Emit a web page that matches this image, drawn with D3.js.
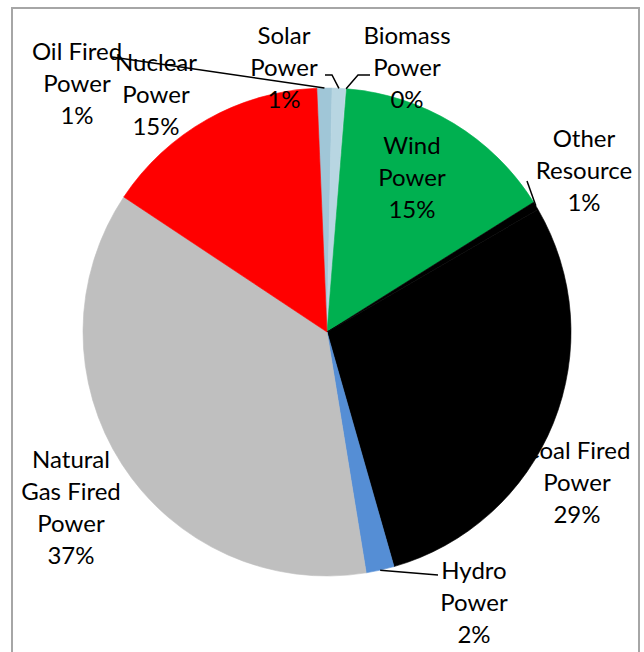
<!DOCTYPE html>
<html>
<head>
<meta charset="utf-8">
<script src="https://cdn.jsdelivr.net/npm/d3@7"></script>
<style>
  html, body { margin: 0; padding: 0; background: #fff; }
  svg { display: block; }
</style>
</head>
<body>
<div id="chart"></div>
<script>
// source shares, clockwise from just left of 12 o'clock
const sources = ['Oil Fired Power', 'Solar Power', 'Biomass Power', 'Wind Power', 'Other Resource',
  'Coal Fired Power', 'Hydro Power', 'Natural Gas Fired Power', 'Nuclear Power'];
const shares = [1.0, 0.89, 0.05, 14.8, 0.55, 28.95, 1.86, 36.9, 15.0];
const labelLines = [
  ['Oil Fired', 'Power'], ['Solar', 'Power'], ['Biomass', 'Power'], ['Wind', 'Power'], ['Other', 'Resource'],
  ['Coal Fired', 'Power'], ['Hydro', 'Power'], ['Natural', 'Gas Fired', 'Power'], ['Nuclear', 'Power'],
];
const colors = ['#A0C6D7', '#B8D6E2', '#C9DFE8', '#00B050', '#000000', '#000000', '#558ED5', '#BFBFBF', '#FF0000'];

// label layout: centre x, first baseline y, leader start points (empty = no leader)
const labelPos = [
  { x: 77, y: 60, lead: [[112, 57]] },
  { x: 284, y: 44, lead: [[325, 75], [332, 75]] },
  { x: 407, y: 44, lead: [[370, 75], [358, 75]] },
  { x: 412, y: 154, lead: [] },
  { x: 584, y: 147, lead: [[527, 181]] },
  { x: 577, y: 459, lead: [] },
  { x: 474, y: 579, lead: [[438, 575]] },
  { x: 71, y: 468, lead: [] },
  { x: 156, y: 71, lead: [] },
];

const W = 644, H = 652;
const cx = 327, cy = 332, r = 244;
const start = -2.4 * Math.PI / 180;
const lineH = 32;

const svg = d3.select('#chart').append('svg').attr('width', W).attr('height', H);

// chart frame (bottom edge falls outside the crop)
svg.append('rect').attr('x', 12).attr('y', 8).attr('width', 627).attr('height', H + 20)
  .attr('fill', 'none').attr('stroke', '#A6A6A6').attr('stroke-width', 2);

const total = d3.sum(shares);
const pie = d3.pie().sort(null).value(d => d).startAngle(start).endAngle(start + 2 * Math.PI);
const arcs = pie(shares);
const arc = d3.arc().innerRadius(0).outerRadius(r);

const g = svg.append('g').attr('transform', `translate(${cx},${cy})`);
// thin same-colour stroke hides anti-aliasing seams between slices
g.selectAll('path.slice').data(arcs).join('path')
  .attr('class', 'slice')
  .attr('d', arc)
  .attr('fill', (d, i) => colors[i])
  .attr('stroke', (d, i) => colors[i])
  .attr('stroke-width', 0.6)
  .attr('stroke-linejoin', 'round');

// leader lines: from label to the middle of the slice's outer edge
const edgePoint = d => {
  const a = (d.startAngle + d.endAngle) / 2;
  return [cx + r * Math.sin(a), cy - r * Math.cos(a)];
};
const line = d3.line();
arcs.forEach((d, i) => {
  const lp = labelPos[i];
  if (!lp.lead.length) return;
  svg.append('path')
    .attr('d', line([...lp.lead, edgePoint(d)]))
    .attr('fill', 'none').attr('stroke', '#000').attr('stroke-width', 1.5);
});

// data labels
const fmt = v => `${Math.round(v / total * 100)}%`;
arcs.forEach((d, i) => {
  const lp = labelPos[i];
  const lines = [...labelLines[i], fmt(shares[i])];
  const t = svg.append('text')
    .attr('x', lp.x).attr('y', lp.y)
    .attr('text-anchor', 'middle')
    .attr('font-family', 'Lato, "Open Sans", sans-serif')
    .attr('font-size', 24)
    .attr('fill', '#000');
  lines.forEach((s, k) => {
    t.append('tspan').attr('x', lp.x).attr('y', lp.y + k * lineH).text(s);
  });
});
</script>
</body>
</html>
